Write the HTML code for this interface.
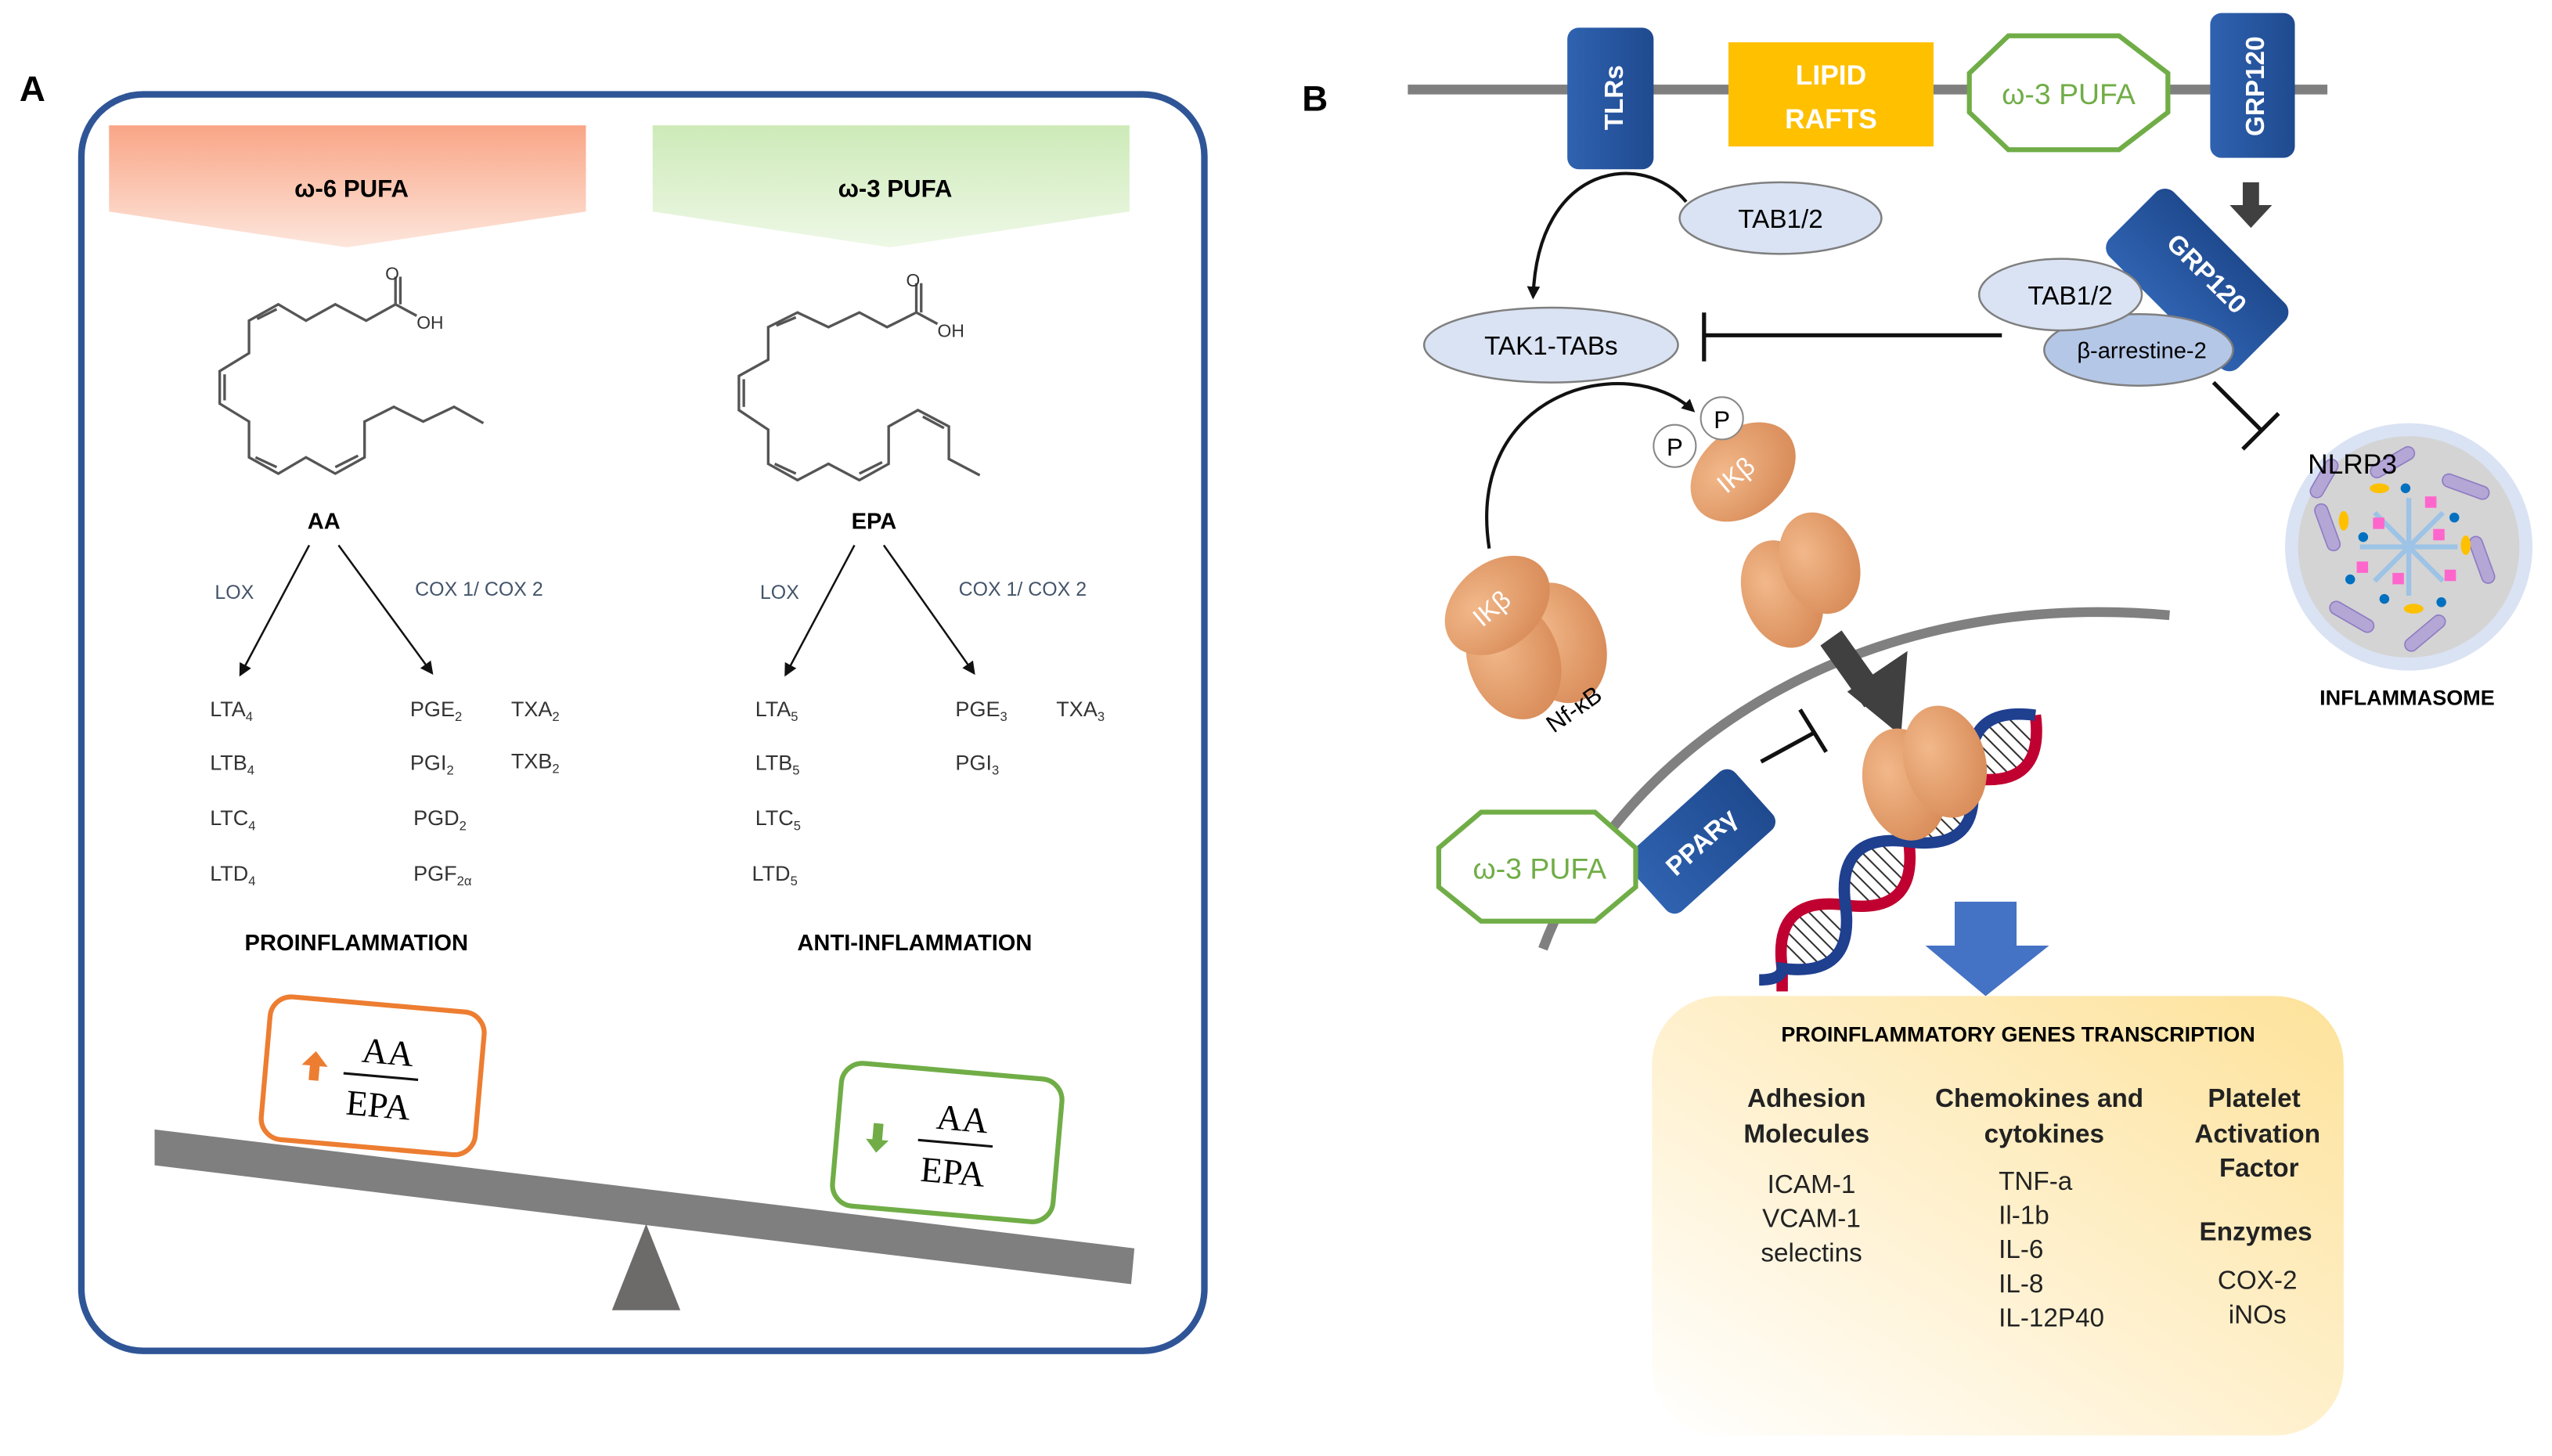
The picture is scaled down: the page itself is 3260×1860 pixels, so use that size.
<!DOCTYPE html>
<html><head><meta charset="utf-8"><style>
html,body{margin:0;padding:0;background:#fff;}
svg{display:block;}
text{font-family:"Liberation Sans",sans-serif;}
text.sf{font-family:"Liberation Serif",serif;}
</style></head><body>
<svg width="3260" height="1860" viewBox="0 0 1568 894.6" preserveAspectRatio="none" xmlns="http://www.w3.org/2000/svg">
<defs>
<linearGradient id="og" x1="0" y1="0" x2="0" y2="1"><stop offset="0" stop-color="#f9a586"/><stop offset="1" stop-color="#fde6dc"/></linearGradient>
<linearGradient id="gg" x1="0" y1="0" x2="0" y2="1"><stop offset="0" stop-color="#cdeab8"/><stop offset="1" stop-color="#eef8e6"/></linearGradient>
<linearGradient id="yb" x1="1" y1="0" x2="0" y2="1"><stop offset="0" stop-color="#fde29a"/><stop offset="0.6" stop-color="#fff3d6"/><stop offset="1" stop-color="#ffffff"/></linearGradient>
<linearGradient id="bl" x1="0" y1="0" x2="1" y2="0"><stop offset="0" stop-color="#2f62b0"/><stop offset="1" stop-color="#1f4a8f"/></linearGradient>
<radialGradient id="or" cx="0.35" cy="0.35" r="0.7"><stop offset="0" stop-color="#f2b88a"/><stop offset="1" stop-color="#d98d5a"/></radialGradient>
<marker id="ah" markerWidth="8" markerHeight="8" refX="6" refY="4" orient="auto" markerUnits="userSpaceOnUse"><path d="M0,0 L8,4 L0,8 z" fill="#111"/></marker>
</defs>

<!-- PANEL A -->
<text x="12" y="62" font-size="22" font-weight="bold">A</text>
<rect x="50" y="58" width="690" height="772" rx="38" fill="none" stroke="#2f5597" stroke-width="4"/>
<polygon points="67,77 360,77 360,130 213,152 67,130" fill="url(#og)"/>
<polygon points="401,77 694,77 694,130 547,152 401,130" fill="url(#gg)"/>
<text x="216" y="121" font-size="15" font-weight="bold" text-anchor="middle">ω-6 PUFA</text>
<text x="550" y="121" font-size="15" font-weight="bold" text-anchor="middle">ω-3 PUFA</text>

<g fill="none" stroke="#555" stroke-width="1.6">
<polyline points="243,187 225,197 206,187 188,197 171,187 153,197 153,217 135,228 135,248 153,259 153,281 171,291 188,281 206,291 224,281 224,259 242,250 260,259 279,250 297,260"/>
<line x1="243" y1="187" x2="243" y2="170"/><line x1="246" y1="187" x2="246" y2="170"/>
<line x1="243" y1="187" x2="256" y2="194"/>
<line x1="158" y1="196" x2="170" y2="190"/><line x1="138" y1="230" x2="138" y2="246"/>
<line x1="157" y1="281" x2="170" y2="287"/><line x1="206" y1="287" x2="220" y2="280"/>
<polyline points="563,192 545,201 528,192 509,201 490,192 472,201 472,221 454,231 454,252 472,264 472,285 490,295 509,285 528,295 546,285 546,262 564,252 583,262 583,282 602,292"/>
<line x1="563" y1="192" x2="563" y2="174"/><line x1="566" y1="192" x2="566" y2="174"/>
<line x1="563" y1="192" x2="576" y2="199"/>
<line x1="477" y1="200" x2="489" y2="195"/><line x1="457" y1="233" x2="457" y2="250"/>
<line x1="476" y1="285" x2="489" y2="291"/><line x1="528" y1="291" x2="542" y2="284"/><line x1="567" y1="256" x2="580" y2="263"/>
</g>
<text x="241" y="172" font-size="11" text-anchor="middle" fill="#333">O</text>
<text x="256" y="202" font-size="11" fill="#333">OH</text>
<text x="561" y="176" font-size="11" text-anchor="middle" fill="#333">O</text>
<text x="576" y="207" font-size="11" fill="#333">OH</text>

<text x="199" y="325" font-size="14" font-weight="bold" text-anchor="middle">AA</text>
<text x="537" y="325" font-size="14" font-weight="bold" text-anchor="middle">EPA</text>
<g stroke="#111" stroke-width="1.2" marker-end="url(#ah)">
<line x1="190" y1="335" x2="148" y2="414"/><line x1="208" y1="335" x2="265" y2="413"/>
<line x1="525" y1="335" x2="483" y2="414"/><line x1="543" y1="335" x2="598" y2="413"/>
</g>
<g font-size="12" fill="#44546a">
<text x="132" y="368">LOX</text><text x="255" y="366">COX 1/ COX 2</text>
<text x="467" y="368">LOX</text><text x="589" y="366">COX 1/ COX 2</text>
</g>
<g font-size="13" fill="#333">
<text x="129" y="440">LTA<tspan font-size="8" dy="3">4</tspan></text>
<text x="129" y="473">LTB<tspan font-size="8" dy="3">4</tspan></text>
<text x="129" y="507">LTC<tspan font-size="8" dy="3">4</tspan></text>
<text x="129" y="541">LTD<tspan font-size="8" dy="3">4</tspan></text>
<text x="252" y="440">PGE<tspan font-size="8" dy="3">2</tspan></text>
<text x="252" y="473">PGI<tspan font-size="8" dy="3">2</tspan></text>
<text x="254" y="507">PGD<tspan font-size="8" dy="3">2</tspan></text>
<text x="254" y="541">PGF<tspan font-size="8" dy="3">2α</tspan></text>
<text x="314" y="440">TXA<tspan font-size="8" dy="3">2</tspan></text>
<text x="314" y="472">TXB<tspan font-size="8" dy="3">2</tspan></text>
<text x="464" y="440">LTA<tspan font-size="8" dy="3">5</tspan></text>
<text x="464" y="473">LTB<tspan font-size="8" dy="3">5</tspan></text>
<text x="464" y="507">LTC<tspan font-size="8" dy="3">5</tspan></text>
<text x="462" y="541">LTD<tspan font-size="8" dy="3">5</tspan></text>
<text x="587" y="440">PGE<tspan font-size="8" dy="3">3</tspan></text>
<text x="587" y="473">PGI<tspan font-size="8" dy="3">3</tspan></text>
<text x="649" y="440">TXA<tspan font-size="8" dy="3">3</tspan></text>
</g>
<text x="219" y="584" font-size="14" font-weight="bold" text-anchor="middle">PROINFLAMMATION</text>
<text x="562" y="584" font-size="14" font-weight="bold" text-anchor="middle">ANTI-INFLAMMATION</text>

<polygon points="95,694 95,716 695,789 697,767" fill="#7f7f7f"/>
<polygon points="397,752 376,805 418,805" fill="#6d6a6a"/>
<g transform="translate(229,661) rotate(5)">
<rect x="-66" y="-44" width="132" height="88" rx="13" fill="#fff" stroke="#ed7d31" stroke-width="3"/>
<polygon points="-36,-12 -44,-3 -39,-3 -39,6 -33,6 -33,-3 -28,-3" fill="#ed7d31"/>
<text class="sf" x="8" y="-8" font-size="22" text-anchor="middle">AA</text>
<line x1="-18" y1="0" x2="28" y2="0" stroke="#111" stroke-width="1.5"/>
<text class="sf" x="5" y="25" font-size="22" text-anchor="middle">EPA</text>
</g>
<g transform="translate(582,702) rotate(5)">
<rect x="-68" y="-44" width="136" height="88" rx="13" fill="#fff" stroke="#70ad47" stroke-width="3"/>
<polygon points="-40,-8 -46,-8 -46,2 -50,2 -43,10 -36,2 -40,2" fill="#70ad47"/>
<text class="sf" x="8" y="-8" font-size="22" text-anchor="middle">AA</text>
<line x1="-18" y1="0" x2="28" y2="0" stroke="#111" stroke-width="1.5"/>
<text class="sf" x="5" y="25" font-size="22" text-anchor="middle">EPA</text>
</g>

<!-- PANEL B -->
<text x="800" y="68" font-size="22" font-weight="bold">B</text>
<line x1="865" y1="55" x2="1430" y2="55" stroke="#7f7f7f" stroke-width="6"/>
<rect x="963" y="17" width="53" height="87" rx="7" fill="url(#bl)"/>
<text transform="translate(997,60) rotate(-90)" font-size="16" font-weight="bold" fill="#fff" text-anchor="middle">TLRs</text>
<rect x="1062" y="26" width="126" height="64" fill="#ffc000"/>
<text x="1125" y="52" font-size="17" font-weight="bold" fill="#fff" text-anchor="middle">LIPID</text>
<text x="1125" y="79" font-size="17" font-weight="bold" fill="#fff" text-anchor="middle">RAFTS</text>
<polygon points="1234,22 1302,22 1332,45 1332,69 1302,92 1234,92 1210,69 1210,45" fill="#fff" stroke="#70ad47" stroke-width="3"/>
<text x="1271" y="64" font-size="18" fill="#70ad47" text-anchor="middle">ω-3 PUFA</text>
<rect x="1358" y="8" width="52" height="89" rx="7" fill="url(#bl)"/>
<text transform="translate(1391,53) rotate(-90)" font-size="16" font-weight="bold" fill="#fff" text-anchor="middle">GRP120</text>
<rect x="1378" y="112" width="10" height="16" fill="#404040"/>
<polygon points="1370,126 1396,126 1383,140" fill="#404040"/>

<path d="M1036,124 C1010,92 945,100 942,182" fill="none" stroke="#111" stroke-width="2" marker-end="url(#ah)"/>
<ellipse cx="1094" cy="134" rx="62" ry="22" fill="#dae3f3" stroke="#7f7f7f" stroke-width="1.2"/>
<text x="1094" y="140" font-size="16" text-anchor="middle">TAB1/2</text>
<ellipse cx="953" cy="212" rx="78" ry="23" fill="#dae3f3" stroke="#7f7f7f" stroke-width="1.2"/>
<text x="953" y="218" font-size="16" text-anchor="middle">TAK1-TABs</text>
<line x1="1230" y1="206" x2="1047" y2="206" stroke="#111" stroke-width="2.5"/>
<line x1="1047" y1="192" x2="1047" y2="222" stroke="#111" stroke-width="2.5"/>

<g transform="translate(1350,172) rotate(-45)">
<rect x="-28" y="-56" width="56" height="112" rx="8" fill="url(#bl)"/>
</g>
<text transform="translate(1352,172) rotate(45)" font-size="16" font-weight="bold" fill="#fff" text-anchor="middle">GRP120</text>
<ellipse cx="1314" cy="215" rx="58" ry="22" fill="#b4c7e7" stroke="#7f7f7f" stroke-width="1.2"/>
<text x="1316" y="220" font-size="14" text-anchor="middle">β-arrestine-2</text>
<ellipse cx="1266" cy="181" rx="50" ry="22" fill="#dae3f3" stroke="#7f7f7f" stroke-width="1.2"/>
<text x="1272" y="187" font-size="16" text-anchor="middle">TAB1/2</text>
<line x1="1360" y1="235" x2="1390" y2="265" stroke="#111" stroke-width="2.5"/>
<line x1="1378" y1="276" x2="1400" y2="254" stroke="#111" stroke-width="2.5"/>

<circle cx="1480" cy="336" r="76" fill="#dae3f3"/>
<circle cx="1480" cy="336" r="68" fill="#d4d4d4"/>
<g stroke="#9dc3e6" stroke-width="3">
<line x1="1450" y1="336" x2="1510" y2="336"/><line x1="1480" y1="306" x2="1480" y2="366"/>
<line x1="1459" y1="315" x2="1501" y2="357"/><line x1="1459" y1="357" x2="1501" y2="315"/>
</g>
<g fill="#b4a7d6" stroke="#8e7cc3" stroke-width="0.8">
<rect x="1455" y="280" width="30" height="8" rx="4" transform="rotate(-30 1470 284)"/>
<rect x="1500" y="295" width="30" height="8" rx="4" transform="rotate(20 1515 299)"/>
<rect x="1415" y="320" width="30" height="8" rx="4" transform="rotate(70 1430 324)"/>
<rect x="1510" y="340" width="30" height="8" rx="4" transform="rotate(70 1525 344)"/>
<rect x="1430" y="375" width="30" height="8" rx="4" transform="rotate(30 1445 379)"/>
<rect x="1475" y="385" width="30" height="8" rx="4" transform="rotate(-40 1490 389)"/>
<rect x="1415" y="290" width="26" height="8" rx="4" transform="rotate(-60 1428 294)"/>
</g>
<g fill="#ff66cc"><rect x="1458" y="318" width="7" height="7"/><rect x="1495" y="325" width="7" height="7"/><rect x="1470" y="352" width="7" height="7"/><rect x="1448" y="345" width="7" height="7"/><rect x="1490" y="305" width="7" height="7"/><rect x="1502" y="350" width="7" height="7"/></g>
<g fill="#0070c0"><circle cx="1452" cy="330" r="3"/><circle cx="1508" cy="318" r="3"/><circle cx="1465" cy="368" r="3"/><circle cx="1500" cy="370" r="3"/><circle cx="1478" cy="300" r="3"/><circle cx="1444" cy="356" r="3"/></g>
<g fill="#ffc000"><ellipse cx="1440" cy="320" rx="3" ry="6"/><ellipse cx="1515" cy="335" rx="3" ry="6"/><ellipse cx="1483" cy="374" rx="6" ry="3"/><ellipse cx="1462" cy="300" rx="6" ry="3"/></g>
<text x="1418" y="291" font-size="17">NLRP3</text>
<text x="1479" y="433" font-size="13" font-weight="bold" text-anchor="middle">INFLAMMASOME</text>

<path d="M948,583 C990,470 1130,360 1333,378" fill="none" stroke="#808080" stroke-width="6"/>
<path d="M915,337 C900,240 1000,215 1040,252" fill="none" stroke="#111" stroke-width="2" marker-end="url(#ah)"/>

<ellipse cx="1071" cy="290" rx="36" ry="26" transform="rotate(-40 1071 290)" fill="url(#or)"/>
<text transform="translate(1070,296) rotate(-40)" font-size="16" fill="#fff" text-anchor="middle">IKβ</text>
<circle cx="1029" cy="274" r="13" fill="#fff" stroke="#888"/><text x="1029" y="280" font-size="15" text-anchor="middle">P</text>
<circle cx="1058" cy="257" r="13" fill="#fff" stroke="#888"/><text x="1058" y="263" font-size="15" text-anchor="middle">P</text>

<ellipse cx="958" cy="395" rx="28" ry="38" transform="rotate(-20 958 395)" fill="url(#or)"/>
<ellipse cx="930" cy="405" rx="28" ry="38" transform="rotate(-20 930 405)" fill="url(#or)"/>
<ellipse cx="920" cy="372" rx="36" ry="26" transform="rotate(-40 920 372)" fill="url(#or)"/>
<text transform="translate(920,378) rotate(-40)" font-size="16" fill="#fff" text-anchor="middle">IKβ</text>
<text transform="translate(970,440) rotate(-35)" font-size="15" text-anchor="middle">Nf-κB</text>

<ellipse cx="1095" cy="365" rx="24" ry="34" transform="rotate(-20 1095 365)" fill="url(#or)"/>
<ellipse cx="1118" cy="346" rx="24" ry="32" transform="rotate(-20 1118 346)" fill="url(#or)"/>

<line x1="1125" y1="392" x2="1152" y2="430" stroke="#404040" stroke-width="16"/>
<polygon points="1135,425 1172,400 1168,452" fill="#404040"/>

<line x1="1082" y1="468" x2="1115" y2="450" stroke="#111" stroke-width="2.5"/>
<line x1="1106" y1="436" x2="1122" y2="462" stroke="#111" stroke-width="2.5"/>

<!-- DNA helix -->
<g transform="translate(1095,595) rotate(-45)">
<g stroke="#333" stroke-width="1">
<line x1="12" y1="-14" x2="12" y2="14"/><line x1="18" y1="-18" x2="18" y2="18"/><line x1="24" y1="-18" x2="24" y2="18"/><line x1="30" y1="-18" x2="30" y2="18"/><line x1="36" y1="-18" x2="36" y2="18"/><line x1="42" y1="-14" x2="42" y2="14"/>
<line x1="67" y1="-14" x2="67" y2="14"/><line x1="73" y1="-18" x2="73" y2="18"/><line x1="79" y1="-18" x2="79" y2="18"/><line x1="85" y1="-18" x2="85" y2="18"/><line x1="91" y1="-18" x2="91" y2="18"/><line x1="97" y1="-14" x2="97" y2="14"/>
<line x1="122" y1="-14" x2="122" y2="14"/><line x1="128" y1="-18" x2="128" y2="18"/><line x1="134" y1="-18" x2="134" y2="18"/><line x1="140" y1="-18" x2="140" y2="18"/><line x1="146" y1="-18" x2="146" y2="18"/><line x1="152" y1="-14" x2="152" y2="14"/>
<line x1="177" y1="-14" x2="177" y2="14"/><line x1="183" y1="-18" x2="183" y2="18"/><line x1="189" y1="-18" x2="189" y2="18"/><line x1="195" y1="-18" x2="195" y2="18"/><line x1="201" y1="-18" x2="201" y2="18"/><line x1="207" y1="-14" x2="207" y2="14"/>
</g>
<path d="M-10,10 Q0,0 0,0 Q27.5,-36 55,0 Q82.5,36 110,0 Q137.5,-36 165,0 Q192.5,36 220,0" fill="none" stroke="#c00030" stroke-width="7"/>
<path d="M-15,-5 Q-5,5 0,0 Q27.5,36 55,0 Q82.5,-36 110,0 Q137.5,36 165,0 Q192.5,-36 220,0" fill="none" stroke="#1f3f8f" stroke-width="7"/>
</g>
<ellipse cx="1170" cy="482" rx="25" ry="35" transform="rotate(-15 1170 482)" fill="url(#or)"/>
<ellipse cx="1195" cy="468" rx="25" ry="35" transform="rotate(-15 1195 468)" fill="url(#or)"/>

<g transform="translate(1045,517) rotate(-42)">
<rect x="-44" y="-24" width="88" height="48" rx="7" fill="url(#bl)"/>
<text x="0" y="6" font-size="16" font-weight="bold" fill="#fff" text-anchor="middle">PPARγ</text>
</g>
<polygon points="910,499 980,499 1005,521 1005,545 980,566 910,566 884,545 884,521" fill="#fff" stroke="#70ad47" stroke-width="3"/>
<text x="946" y="540" font-size="18" fill="#70ad47" text-anchor="middle">ω-3 PUFA</text>

<rect x="1015" y="612" width="425" height="270" rx="42" fill="url(#yb)"/>
<polygon points="1201,554 1239,554 1239,581 1259,581 1220,612 1183,581 1201,581" fill="#4472c4"/>
<text x="1240" y="640" font-size="13" font-weight="bold" text-anchor="middle">PROINFLAMMATORY GENES TRANSCRIPTION</text>
<g font-size="16" font-weight="bold" text-anchor="middle" fill="#222">
<text x="1110" y="680">Adhesion</text><text x="1110" y="702">Molecules</text>
<text x="1253" y="680">Chemokines and</text><text x="1256" y="702">cytokines</text>
<text x="1385" y="680">Platelet</text><text x="1387" y="702">Activation</text><text x="1388" y="723">Factor</text>
<text x="1386" y="762">Enzymes</text>
</g>
<g font-size="16" fill="#222">
<g text-anchor="middle"><text x="1113" y="733">ICAM-1</text><text x="1113" y="754">VCAM-1</text><text x="1113" y="775">selectins</text>
<text x="1387" y="792">COX-2</text><text x="1387" y="813">iNOs</text></g>
<text x="1228" y="731">TNF-a</text><text x="1228" y="752">Il-1b</text><text x="1228" y="773">IL-6</text><text x="1228" y="794">IL-8</text><text x="1228" y="815">IL-12P40</text>
</g>
</svg>
</body></html>
